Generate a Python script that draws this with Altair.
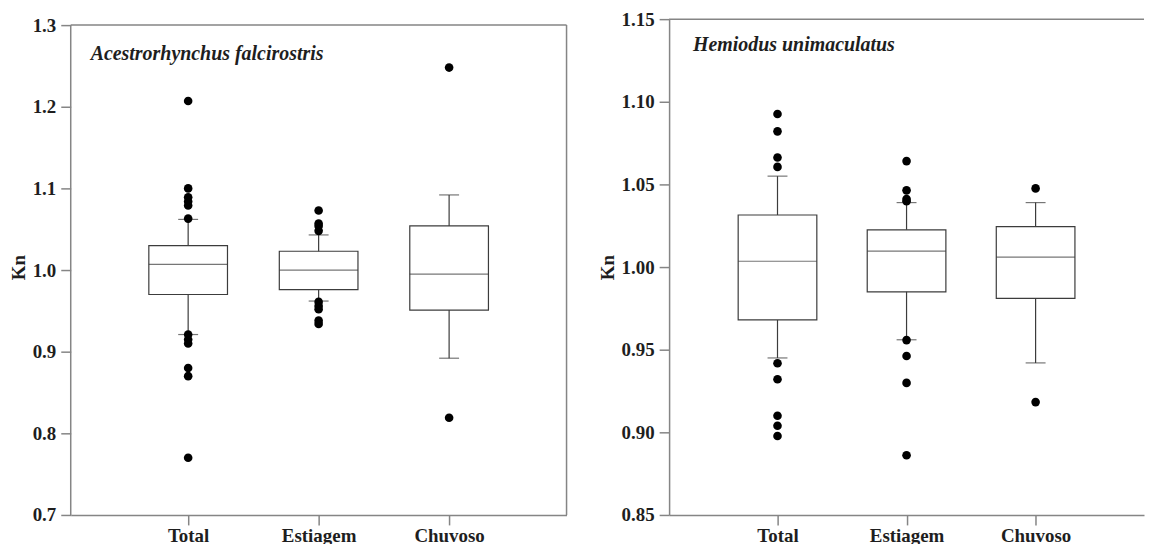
import altair as alt
import pandas as pd

cats = ["Total", "Estiagem", "Chuvoso"]

# Acestrorhynchus falcirostris (left panel)
a_low = [0.921, 0.962, 0.892]
a_q1 = [0.970, 0.976, 0.951]
a_med = [1.007, 1.000, 0.995]
a_q3 = [1.030, 1.023, 1.054]
a_high = [1.062, 1.043, 1.092]
a_out_total = [1.207, 1.100, 1.089, 1.084, 1.079, 1.063, 0.921, 0.915, 0.910, 0.880, 0.870, 0.770]
a_out_estiagem = [1.073, 1.057, 1.054, 1.048, 0.961, 0.956, 0.952, 0.938, 0.934]
a_out_chuvoso = [1.248, 0.819]
a_ticks = [0.7, 0.8, 0.9, 1.0, 1.1, 1.2, 1.3]

# Hemiodus unimaculatus (right panel)
h_low = [0.945, 0.956, 0.942]
h_q1 = [0.968, 0.985, 0.981]
h_med = [1.0035, 1.0096, 1.006]
h_q3 = [1.0315, 1.0225, 1.0245]
h_high = [1.055, 1.039, 1.039]
h_out_total = [1.0926, 1.0821, 1.0663, 1.0606, 0.9418, 0.9321, 0.9100, 0.9040, 0.8978]
h_out_estiagem = [1.0641, 1.0464, 1.0412, 1.0398, 0.9558, 0.9462, 0.9299, 0.8861]
h_out_chuvoso = [1.0476, 0.9183]
h_ticks = [0.85, 0.90, 0.95, 1.00, 1.05, 1.10, 1.15]

FONT = "Liberation Serif"
BOX_C = "#3c3c3c"
AX_C = "#858585"
TXT_C = "#1e1e1e"
BOX_W = 79
CAP_W = 20


def panel(low, q1, med, q3, high, outs, ymin, ymax, top, ticks, fmt, label,
          W, H, pad, tx, ty, left_rule, right_rule):
    stats = pd.DataFrame({"cat": cats, "low": low, "q1": q1, "med": med,
                          "q3": q3, "high": high})
    out = pd.DataFrame({
        "cat": [c for c, vs in zip(cats, outs) for _ in vs],
        "v": [v for vs in outs for v in vs],
    })
    one = pd.DataFrame({"k": [0]})
    xenc = alt.X("cat:N", sort=cats,
                 scale=alt.Scale(type="point", padding=pad),
                 axis=alt.Axis(title=None, labelAngle=0, labelPadding=2))
    yscale = alt.Scale(domain=[ymin, ymax], nice=False, zero=False)
    yaxis = alt.Axis(title="Kn", values=ticks, format=fmt, domain=not left_rule,
                     labelPadding=5, titlePadding=4)
    base = alt.Chart(stats)
    whisk = base.mark_rule(color=BOX_C, strokeWidth=1.2).encode(
        x=xenc, y=alt.Y("low:Q", scale=yscale, axis=yaxis), y2="high:Q")
    box = base.mark_bar(size=BOX_W, fill="white", stroke=BOX_C, strokeWidth=1.2).encode(
        x=xenc, y="q1:Q", y2="q3:Q")
    medt = base.mark_tick(size=BOX_W, thickness=1.2, color=BOX_C).encode(x=xenc, y="med:Q")
    cap_lo = base.mark_tick(size=CAP_W, thickness=1.2, color=BOX_C).encode(x=xenc, y="low:Q")
    cap_hi = base.mark_tick(size=CAP_W, thickness=1.2, color=BOX_C).encode(x=xenc, y="high:Q")
    pts = alt.Chart(out).mark_circle(size=75, color="black", opacity=1).encode(x=xenc, y="v:Q")
    layers = [whisk, box, medt, cap_lo, cap_hi, pts]
    fr = alt.Chart(one)
    layers.append(fr.mark_rule(color=AX_C, strokeWidth=1.5).encode(
        y=alt.datum(top), x=alt.value(0), x2=alt.value(W)))
    if left_rule:
        layers.append(fr.mark_rule(color=AX_C, strokeWidth=1.5).encode(
            x=alt.value(0), y=alt.datum(ymin), y2=alt.datum(top)))
    if right_rule:
        layers.append(fr.mark_rule(color=AX_C, strokeWidth=1.5).encode(
            x=alt.value(W), y=alt.datum(ymin), y2=alt.datum(top)))
    layers.append(fr.mark_text(align="left", baseline="middle", font=FONT, fontSize=20,
                               fontStyle="italic", fontWeight="bold", color=TXT_C).encode(
        x=alt.value(tx), y=alt.value(ty), text=alt.value(label)))
    return alt.layer(*layers).properties(width=W, height=H)


H = 498
left = panel(a_low, a_q1, a_med, a_q3, a_high,
             [a_out_total, a_out_estiagem, a_out_chuvoso],
             0.7, 1.3 + 0.6 * 6 / 492, 1.3, a_ticks, ".1f",
             "Acestrorhynchus falcirostris", 498, H, 0.9, 20, 35, True, True)
right = panel(h_low, h_q1, h_med, h_q3, h_high,
              [h_out_total, h_out_estiagem, h_out_chuvoso],
              0.85, 1.15, 1.15, h_ticks, ".2f",
              "Hemiodus unimaculatus", 477, H, 0.84, 24, 26, False, False)

chart = alt.hconcat(left, right, spacing=29).properties(
    padding={"left": 0, "top": 0, "right": 0, "bottom": 0}
).configure_view(stroke="transparent").configure_axis(
    labelFont=FONT, titleFont=FONT, labelFontSize=19, titleFontSize=19,
    labelFontWeight="bold", titleFontWeight="bold", labelColor=TXT_C, titleColor=TXT_C,
    tickColor=AX_C, domainColor=AX_C, tickSize=10, tickWidth=1.5, domainWidth=1.5,
    grid=False,
)

chart.save("out.html", embed_options={"renderer": "svg", "actions": False})
